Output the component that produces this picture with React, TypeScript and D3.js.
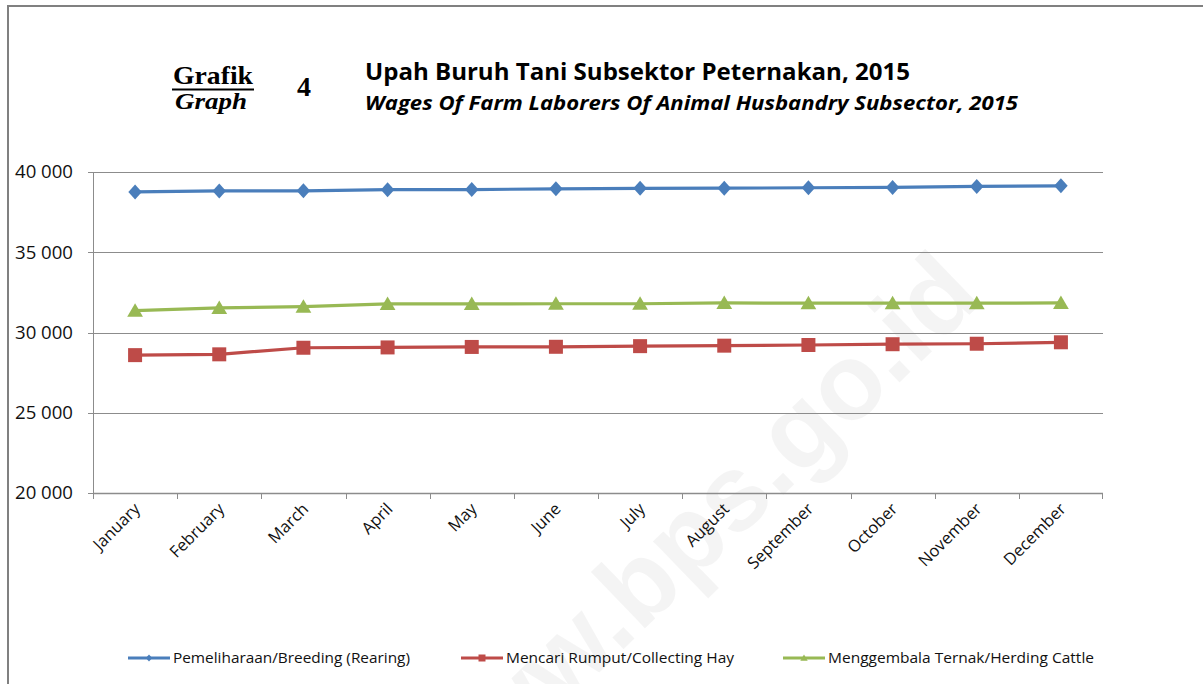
import React from "react";
import { scaleBand, scaleLinear, line } from "d3";

const months = ["January", "February", "March", "April", "May", "June", "July", "August", "September", "October", "November", "December"];
const breeding = [38760, 38820, 38830, 38900, 38905, 38950, 38980, 38990, 39020, 39040, 39100, 39140];
const collectingHay = [28590, 28640, 29050, 29070, 29100, 29110, 29150, 29180, 29220, 29270, 29300, 29390];
const herding = [31360, 31530, 31610, 31780, 31780, 31790, 31790, 31840, 31830, 31830, 31830, 31840];
const yTicks = [20000, 25000, 30000, 35000, 40000];
const seriesNames = ["Pemeliharaan/Breeding (Rearing)", "Mencari Rumput/Collecting Hay", "Menggembala Ternak/Herding Cattle"];

const W = 1203;
const H = 684;
const font = "'Open Sans', 'Liberation Sans', sans-serif";
const fmt = (v: number) => String(v).replace(/\B(?=(\d{3})+(?!\d))/g, " ");

const marker = (kind: string, s: number) => {
  if (kind === "diamond") return `M0,${-s}L${s * 0.9},0L0,${s}L${-s * 0.9},0Z`;
  if (kind === "square") return `M${-s},${-s}H${s}V${s}H${-s}Z`;
  return `M0,${-s}L${s * 1.05},${s * 0.8}L${-s * 1.05},${s * 0.8}Z`;
};

export default function App() {
  const x = scaleBand<string>().domain(months).range([93, 1103]);
  const y = scaleLinear().domain([20000, 40000]).range([493, 172]);
  const cx = (m: string) => (x(m) as number) + x.bandwidth() / 2;

  const series = [
    { name: seriesNames[0], values: breeding, color: "#4A7EBB", kind: "diamond", size: 7.5 },
    { name: seriesNames[1], values: collectingHay, color: "#BE4B48", kind: "square", size: 7 },
    { name: seriesNames[2], values: herding, color: "#98B954", kind: "triangle", size: 7.5 },
  ];
  const legendX = [128, 461, 783];
  const legendLen = [237, 228, 266];

  const path = line<number>()
    .x((_, i) => cx(months[i]))
    .y((d) => y(d));

  return (
    <svg width={W} height={H} style={{ position: "absolute", left: 0, top: 0, background: "#fff" }}>
      <rect x={8} y={6} width={W + 20} height={H + 20} fill="#fff" stroke="#808080" strokeWidth={2} />

      {/* watermark */}
      <text
        transform="translate(985,300) rotate(-44)"
        textAnchor="end"
        fontFamily="'Liberation Sans', sans-serif"
        fontWeight="bold"
        fontSize={108}
        fill="#000"
        fillOpacity={0.045}
      >
        www.bps.go.id
      </text>

      {/* heading */}
      <text x={173} y={84} fontFamily="'Liberation Serif', serif" fontWeight="bold" fontSize={25} textLength={80} lengthAdjust="spacingAndGlyphs">Grafik</text>
      <line x1={172} x2={254} y1={89.5} y2={89.5} stroke="#000" strokeWidth={2} />
      <text x={175} y={109} fontFamily="'Liberation Serif', serif" fontWeight="bold" fontStyle="italic" fontSize={24} textLength={72} lengthAdjust="spacingAndGlyphs">Graph</text>
      <text x={297} y={96} fontFamily="'Liberation Serif', serif" fontWeight="bold" fontSize={28}>4</text>
      <text x={365} y={80} fontFamily={font} fontWeight="bold" fontSize={24} textLength={545} lengthAdjust="spacingAndGlyphs">Upah Buruh Tani Subsektor Peternakan, 2015</text>
      <text x={365} y={110} fontFamily={font} fontWeight="bold" fontStyle="italic" fontSize={20} textLength={653} lengthAdjust="spacingAndGlyphs">Wages Of Farm Laborers Of  Animal Husbandry Subsector, 2015</text>

      {/* grid and y axis */}
      {yTicks.map((t) => (
        <g key={t}>
          <line x1={88} x2={1103} y1={Math.round(y(t)) + 0.5} y2={Math.round(y(t)) + 0.5} stroke="#8c8c8c" strokeWidth={1} />
          <text x={73} y={y(t)} dy="0.35em" textAnchor="end" fontFamily={font} fontSize={18} fill="#111" textLength={58} lengthAdjust="spacingAndGlyphs">{fmt(t)}</text>
        </g>
      ))}
      <line x1={93.5} x2={93.5} y1={y(40000)} y2={y(20000)} stroke="#8c8c8c" strokeWidth={1} />

      {/* x axis */}
      <line x1={93} x2={1103} y1={493.5} y2={493.5} stroke="#8c8c8c" strokeWidth={1.5} />
      {months.map((m, i) => (
        <g key={m}>
          <line x1={Math.round(x(m) as number) + 0.5} x2={Math.round(x(m) as number) + 0.5} y1={493} y2={499} stroke="#8c8c8c" />
          {i === months.length - 1 && <line x1={1102.5} x2={1102.5} y1={493} y2={499} stroke="#8c8c8c" />}
          <text
            transform={`translate(${cx(m) + 6},${510}) rotate(-45)`}
            textAnchor="end"
            fontFamily={font}
            fontSize={16.5}
            fill="#111"
          >
            {m}
          </text>
        </g>
      ))}

      {/* series */}
      {series.map((s) => (
        <g key={s.name}>
          <path d={path(s.values) as string} fill="none" stroke={s.color} strokeWidth={3.2} />
          {s.values.map((v, i) => (
            <path key={i} d={marker(s.kind, s.size)} transform={`translate(${cx(months[i])},${y(v)})`} fill={s.color} />
          ))}
        </g>
      ))}

      {/* legend */}
      {series.map((s, i) => (
        <g key={s.name} transform={`translate(${legendX[i]},658)`}>
          <line x1={0} x2={42} y1={0} y2={0} stroke={s.color} strokeWidth={3} />
          <path d={marker(s.kind, 3.5)} transform="translate(21,0)" fill={s.color} />
          <text x={45} y={0} dy="0.35em" fontFamily={font} fontSize={15} fill="#111" textLength={legendLen[i]} lengthAdjust="spacingAndGlyphs">{s.name}</text>
        </g>
      ))}
    </svg>
  );
}
